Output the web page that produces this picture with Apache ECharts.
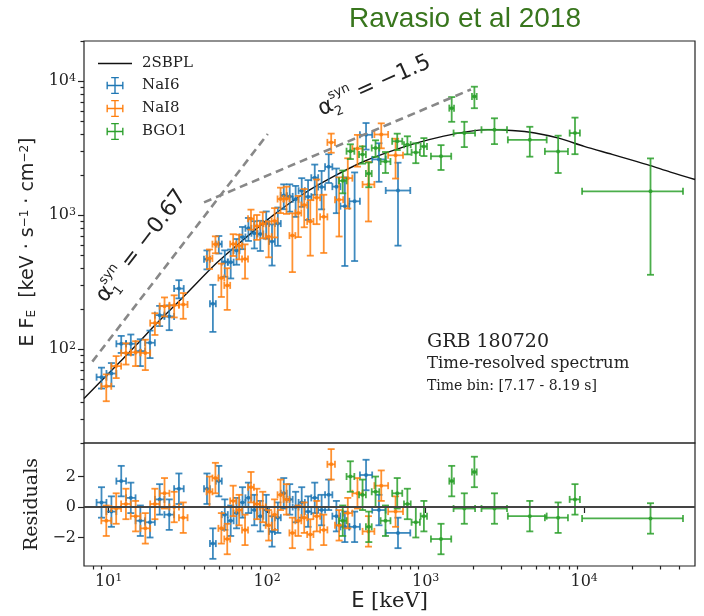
<!DOCTYPE html>
<html>
<head>
<meta charset="utf-8">
<script src="https://cdn.jsdelivr.net/npm/echarts@6/dist/echarts.min.js"></script>
<style>
  html, body { margin: 0; background: #fff; }
  #chart { width: 704px; height: 616px; }
</style>
</head>
<body>
<div id="chart"></div>
<script>
// GRB 180720 time-resolved spectrum (Ravasio et al 2018)

// NaI6: contiguous energy bins (two ranges, K-edge gap), flux, 1-sigma error, residual
const nai6Edges = [
  [8.4, 9.7, 11.2, 12.9, 14.8, 17.0, 19.6, 22.5, 25.9, 29.8],
  [40, 43.6, 47.5, 51.8, 56.5, 61.5, 67, 73, 79.6, 86.8, 94.6, 103, 112, 122, 133, 145, 158, 173, 190, 210, 232, 258, 290, 330, 385, 460, 560, 800]
];
const nai6Flux = [62, 66, 110, 110, 97, 112, 180, 176, 284,
  471, 219, 610, 448, 447, 547, 689, 800, 735, 726, 869, 639, 868, 1407, 1384, 1316, 1526, 1378, 1908, 1627, 2301, 1637, 1171, 1273, 3990, 2615, 1532];
const nai6Err = [11, 13, 16, 19, 22, 26, 31, 37, 44,
  76, 84, 91, 100, 109, 119, 130, 156, 169, 184, 200, 217, 276, 296, 319, 342, 368, 454, 485, 519, 557, 599, 752, 817, 895, 835, 938];
const nai6Resid = [0.3, -0.3, 1.7, 0.6, -0.9, -1.0, 0.5, -0.5, 1.2,
  1.2, -2.4, 1.7, -0.5, -0.9, -0.4, 0.3, 0.6, -0.2, -0.6, -0.2, -1.6, -0.7, 0.9, 0.5, 0.0, 0.3, -0.3, 0.6, -0.2, 0.8, -0.6, -1.3, -1.3, 2.1, -0.2, -1.7];

// NaI8
const nai8Edges = [
  [9.0, 10.4, 12.0, 13.8, 15.9, 18.3, 21.0, 24.2, 27.8, 31.5],
  [41.5, 45.2, 49.3, 53.7, 58.5, 63.8, 69.5, 75.8, 82.6, 90, 98, 106.8, 116.4, 126.9, 138.3, 150.7, 164.3, 179, 196, 216, 240, 268, 302, 345, 400, 475, 580, 720]
];
const nai8Flux = [53, 75, 94, 95, 94, 157, 210, 213, 216,
  477, 609, 341, 300, 610, 593, 472, 942, 831, 865, 693, 908, 1324, 1331, 706, 1042, 1193, 900, 1355, 974, 3503, 1308, 1895, 3147, 1700, 4012, 2806];
const nai8Err = [12, 14, 17, 20, 24, 29, 34, 40, 47,
  79, 88, 95, 103, 113, 124, 135, 161, 175, 190, 207, 224, 285, 306, 329, 354, 379, 400, 496, 450, 571, 613, 771, 838, 800, 848, 925];
const nai8Resid = [-0.9, -0.1, 0.2, -0.6, -1.4, 0.2, 0.9, 0.0, -0.7,
  1.0, 1.9, -1.4, -2.1, 0.4, -0.2, -1.5, 1.3, 0.2, 0.0, -1.2, -0.5, 0.8, 0.5, -1.7, -0.9, -0.7, -1.8, -0.6, -1.5, 2.8, -1.2, -0.4, 0.9, -1.6, 1.4, -0.3];

// BGO1: bin centre, bin edges, flux, error, residual
const bgoE = [300, 335, 400, 438, 483, 558, 662, 767, 867, 975, 1250, 1460, 1754, 2030, 2717, 4540, 6850, 8750, 26200];
const bgoLo = [284, 317, 380, 420, 457, 520, 615, 730, 815, 930, 1080, 1410, 1500, 1960, 2250, 3300, 5650, 8100, 9700];
const bgoHi = [317, 355, 420, 457, 510, 600, 712, 805, 920, 1020, 1450, 1510, 2050, 2100, 3260, 5800, 7900, 9400, 42000];
const bgoFlux = [1810, 3010, 2850, 2050, 3180, 2520, 3570, 3370, 2950, 3270, 2760, 6310, 4110, 7710, 4350, 3660, 3000, 4110, 1510];
const bgoErr = [350, 380, 420, 430, 450, 450, 500, 520, 500, 500, 580, 1320, 880, 1410, 950, 920, 930, 1250, 1150];
const bgoResid = [-0.9, 2.0, 0.8, -1.3, 1.0, -0.9, 0.9, 0.2, -1.0, -0.6, -2.1, 1.7, -0.1, 2.3, -0.1, -0.6, -0.7, 0.5, -0.75];

// 2SBPL best fit curve
const modelE = [7, 10, 15, 20, 30, 48, 70, 109, 170, 263, 400, 600, 881, 1300, 1800, 2470, 3500, 4890, 7000, 10000, 15000, 25000, 35000, 50000];
const modelF = [43, 66, 108, 155, 250, 440, 650, 1000, 1450, 1950, 2500, 3000, 3470, 3900, 4200, 4360, 4300, 4120, 3750, 3270, 2850, 2390, 2100, 1850];

// synchrotron slopes (dashed guides)
const syn1 = [[7.9, 81], [101, 4050]];
const syn2 = [[40, 1250], [1930, 8700]];

// ticks
const xMajor = [10, 100, 1000, 10000];
const xMinor = [8, 9, 20, 30, 40, 50, 60, 70, 80, 90, 200, 300, 400, 500, 600, 700, 800, 900,
  2000, 3000, 4000, 5000, 6000, 7000, 8000, 9000, 20000, 30000, 40000];
const yMajor = [100, 1000, 10000];
const yMinor = [20, 30, 40, 50, 60, 70, 80, 90, 200, 300, 400, 500, 600, 700, 800, 900,
  2000, 3000, 4000, 5000, 6000, 7000, 8000, 9000, 20000];
const resTicks = [-2, 0, 2];

const SERIF = '"DejaVu Serif", serif';
const SANS = '"DejaVu Sans", sans-serif';
const INK = '#222';

function bins(edgeSets) {
  const out = [];
  edgeSets.forEach(function (edges) {
    for (let i = 0; i < edges.length - 1; i++) {
      out.push([Math.sqrt(edges[i] * edges[i + 1]), edges[i], edges[i + 1]]);
    }
  });
  return out;
}
const nai6Bins = bins(nai6Edges);
const nai8Bins = bins(nai8Edges);
const bgoBins = bgoE.map((e, i) => [e, bgoLo[i], bgoHi[i]]);

// rows: [E, y, Elo, Ehi, yerr]
function rows(b, vals, errs) {
  return b.map((d, i) => [d[0], vals[i], d[1], d[2], errs ? errs[i] : 1]);
}

function errorBars(color) {
  return function (params, api) {
    const x = api.value(0), y = api.value(1), lo = api.value(2), hi = api.value(3), er = api.value(4);
    const c = api.coord([x, y]);
    const l = api.coord([lo, y])[0], r = api.coord([hi, y])[0];
    const t = api.coord([x, y + er])[1], b = api.coord([x, y - er])[1];
    const cap = 3.5;
    const st = { stroke: color, lineWidth: 1.8 };
    const seg = (x1, y1, x2, y2) => ({ type: 'line', shape: { x1: x1, y1: y1, x2: x2, y2: y2 }, style: st });
    return {
      type: 'group',
      children: [
        seg(l, c[1], r, c[1]), seg(c[0], t, c[0], b),
        seg(c[0] - cap, t, c[0] + cap, t), seg(c[0] - cap, b, c[0] + cap, b),
        seg(l, c[1] - cap, l, c[1] + cap), seg(r, c[1] - cap, r, c[1] + cap),
        { type: 'circle', shape: { cx: c[0], cy: c[1], r: 2 }, style: { fill: color } }
      ]
    };
  };
}

function dataSeries(name, color, data, xi, yi) {
  return {
    name: name, type: 'custom', xAxisIndex: xi, yAxisIndex: yi,
    itemStyle: { color: color.replace(/[\d.]+\)$/, '1)') },
    renderItem: errorBars(color), encode: { x: 0, y: 1 }, data: data, z: 4, silent: true
  };
}

const logLabel = v => '{b|10}{s|' + Math.round(Math.log10(v)) + '}';
const logRich = {
  b: { fontFamily: SERIF, fontSize: 16, color: INK },
  s: { fontFamily: SERIF, fontSize: 11, color: INK, verticalAlign: 'top', padding: [0, 0, 6, 0] }
};
const tickLine = { color: INK, width: 1.2 };

const CROSS = 'path://M9.2,0h1.6v20h-1.6z M0,9.2h20v1.6h-20z M5.5,0h9v1.6h-9z M5.5,18.4h9v1.6h-9z M0,5.5h1.6v9h-1.6z M18.4,5.5h1.6v9h-1.6z';
const DASH = 'path://M0,0h34v1.6h-34z';

const BLUE_A = 'rgba(31,119,180,0.85)', ORANGE_A = 'rgba(255,127,14,0.85)', GREEN_A = 'rgba(44,160,44,0.85)';

const chart = echarts.init(document.getElementById('chart'));
chart.setOption({
  animation: false,
  backgroundColor: '#fff',
  grid: [
    { left: 84, top: 41, width: 611, height: 402, show: true, borderColor: INK, borderWidth: 1.2, outerBoundsMode: 'none' },
    { left: 84, top: 443, width: 611, height: 123, show: true, borderColor: INK, borderWidth: 1.2, outerBoundsMode: 'none' }
  ],
  legend: {
    data: [{ name: '2SBPL', icon: DASH }, { name: 'NaI6', icon: CROSS }, { name: 'NaI8', icon: CROSS }, { name: 'BGO1', icon: CROSS }],
    orient: 'vertical', left: 93, top: 51, itemWidth: 34, itemHeight: 17, itemGap: 6,
    selectedMode: false,
    textStyle: { fontFamily: SERIF, fontSize: 15, color: INK, padding: [0, 0, 0, 5] }
  },
  xAxis: [
    { gridIndex: 0, type: 'log', logBase: 10, min: 7, max: 50000,
      axisLine: { show: false }, axisTick: { show: false }, axisLabel: { show: false }, splitLine: { show: false } },
    { gridIndex: 1, type: 'log', logBase: 10, min: 7, max: 50000, position: 'bottom',
      axisLine: { show: false }, splitLine: { show: false },
      axisTick: { customValues: xMajor, length: 6, lineStyle: tickLine },
      axisLabel: { customValues: xMajor, formatter: logLabel, rich: logRich, margin: 7 },
      name: '{a|E }{b|[keV]}', nameLocation: 'middle', nameGap: 25,
      nameTextStyle: { rich: { a: { fontFamily: SANS, fontSize: 21, color: INK }, b: { fontFamily: SERIF, fontSize: 21, color: INK } } } },
    { gridIndex: 1, type: 'log', logBase: 10, min: 7, max: 50000, position: 'bottom',
      axisLine: { show: false }, splitLine: { show: false }, axisLabel: { show: false },
      axisTick: { customValues: xMinor, length: 3.5, lineStyle: tickLine } }
  ],
  yAxis: [
    { gridIndex: 0, type: 'log', logBase: 10, min: 20, max: 20000, position: 'left',
      axisLine: { show: false }, splitLine: { show: false },
      axisTick: { customValues: yMajor, length: 6, lineStyle: tickLine },
      axisLabel: { customValues: yMajor, formatter: logLabel, rich: logRich, margin: 8 },
      name: '{a|E F}{sub|E}{a|  [keV · s}{sup|−1}{a| · cm}{sup|−2}{a|]}', nameLocation: 'middle', nameGap: 35, nameRotate: 90,
      nameTextStyle: { rich: {
        a: { fontFamily: SANS, fontSize: 19, color: INK },
        sub: { fontFamily: SANS, fontSize: 12, color: INK, verticalAlign: 'bottom' },
        sup: { fontFamily: SANS, fontSize: 12, color: INK, verticalAlign: 'top' } } } },
    { gridIndex: 0, type: 'log', logBase: 10, min: 20, max: 20000, position: 'left',
      axisLine: { show: false }, splitLine: { show: false }, axisLabel: { show: false },
      axisTick: { customValues: yMinor, length: 3.5, lineStyle: tickLine } },
    { gridIndex: 1, type: 'value', min: -3.87, max: 4.2, position: 'left',
      axisLine: { show: false }, splitLine: { show: false },
      axisTick: { customValues: resTicks, length: 6, lineStyle: tickLine },
      axisLabel: { customValues: resTicks, margin: 8, fontFamily: SERIF, fontSize: 16, color: INK,
        formatter: v => (v < 0 ? '−' + (-v) : String(v)) },
      name: 'Residuals', nameLocation: 'middle', nameGap: 40, nameRotate: 90,
      nameTextStyle: { fontFamily: SERIF, fontSize: 19, color: INK } }
  ],
  series: [
    { name: '2SBPL', type: 'line', xAxisIndex: 0, yAxisIndex: 0, showSymbol: false, symbol: 'none', smooth: 0.3,
      data: modelE.map((e, i) => [e, modelF[i]]), lineStyle: { color: '#111', width: 1.4 }, itemStyle: { color: '#111' }, z: 3, silent: true },
    dataSeries('NaI6', BLUE_A, rows(nai6Bins, nai6Flux, nai6Err), 0, 0),
    dataSeries('NaI8', ORANGE_A, rows(nai8Bins, nai8Flux, nai8Err), 0, 0),
    dataSeries('BGO1', GREEN_A, rows(bgoBins, bgoFlux, bgoErr), 0, 0),
    { type: 'line', xAxisIndex: 0, yAxisIndex: 0, symbol: 'none', data: syn1, z: 6, silent: true,
      lineStyle: { color: '#888', width: 2.6, type: [8, 5] } },
    { type: 'line', xAxisIndex: 0, yAxisIndex: 0, symbol: 'none', data: syn2, z: 6, silent: true,
      lineStyle: { color: '#888', width: 2.6, type: [8, 5] } },
    dataSeries('NaI6', BLUE_A, rows(nai6Bins, nai6Resid), 1, 2),
    dataSeries('NaI8', ORANGE_A, rows(nai8Bins, nai8Resid), 1, 2),
    dataSeries('BGO1', GREEN_A, rows(bgoBins, bgoResid), 1, 2),
    { type: 'line', xAxisIndex: 1, yAxisIndex: 2, symbol: 'none', data: [[7, 0], [50000, 0]], z: 5, silent: true,
      lineStyle: { color: '#444', width: 2 } }
  ],
  graphic: [
    { type: 'text', x: 465, y: 19, style: { text: 'Ravasio et al 2018', fontFamily: '"Liberation Sans", Arial, sans-serif', fontSize: 28,
      fill: '#38761d', align: 'center', verticalAlign: 'middle' } },
    { type: 'text', x: 427, y: 342, style: { text: 'GRB 180720', fontFamily: SERIF, fontSize: 19, fill: INK, align: 'left', verticalAlign: 'middle' } },
    { type: 'text', x: 427, y: 364, style: { text: 'Time-resolved spectrum', fontFamily: SERIF, fontSize: 16.5, fill: INK, align: 'left', verticalAlign: 'middle' } },
    { type: 'text', x: 427, y: 386, style: { text: 'Time bin: [7.17 - 8.19 s]', fontFamily: SERIF, fontSize: 14, fill: INK, align: 'left', verticalAlign: 'middle' } },
    { type: 'group', x: 143, y: 244, rotation: 52.7 * Math.PI / 180, children: [
      { type: 'text', x: -70, y: 0, style: { text: 'α', fontFamily: SANS, fontSize: 22, fill: INK, align: 'left', verticalAlign: 'middle' } },
      { type: 'text', x: -56, y: -9, style: { text: 'syn', fontFamily: SANS, fontSize: 13, fill: INK, align: 'left', verticalAlign: 'middle' } },
      { type: 'text', x: -56, y: 9, style: { text: '1', fontFamily: SANS, fontSize: 13, fill: INK, align: 'left', verticalAlign: 'middle' } },
      { type: 'text', x: -28, y: 0, style: { text: '= −0.67', fontFamily: SANS, fontSize: 22, fill: INK, align: 'left', verticalAlign: 'middle' } }
    ] },
    { type: 'group', x: 374, y: 86, rotation: 24 * Math.PI / 180, children: [
      { type: 'text', x: -60, y: 0, style: { text: 'α', fontFamily: SANS, fontSize: 22, fill: INK, align: 'left', verticalAlign: 'middle' } },
      { type: 'text', x: -46, y: -9, style: { text: 'syn', fontFamily: SANS, fontSize: 13, fill: INK, align: 'left', verticalAlign: 'middle' } },
      { type: 'text', x: -46, y: 9, style: { text: '2', fontFamily: SANS, fontSize: 13, fill: INK, align: 'left', verticalAlign: 'middle' } },
      { type: 'text', x: -18, y: 0, style: { text: '= −1.5', fontFamily: SANS, fontSize: 22, fill: INK, align: 'left', verticalAlign: 'middle' } }
    ] }
  ]
});
</script>
</body>
</html>
